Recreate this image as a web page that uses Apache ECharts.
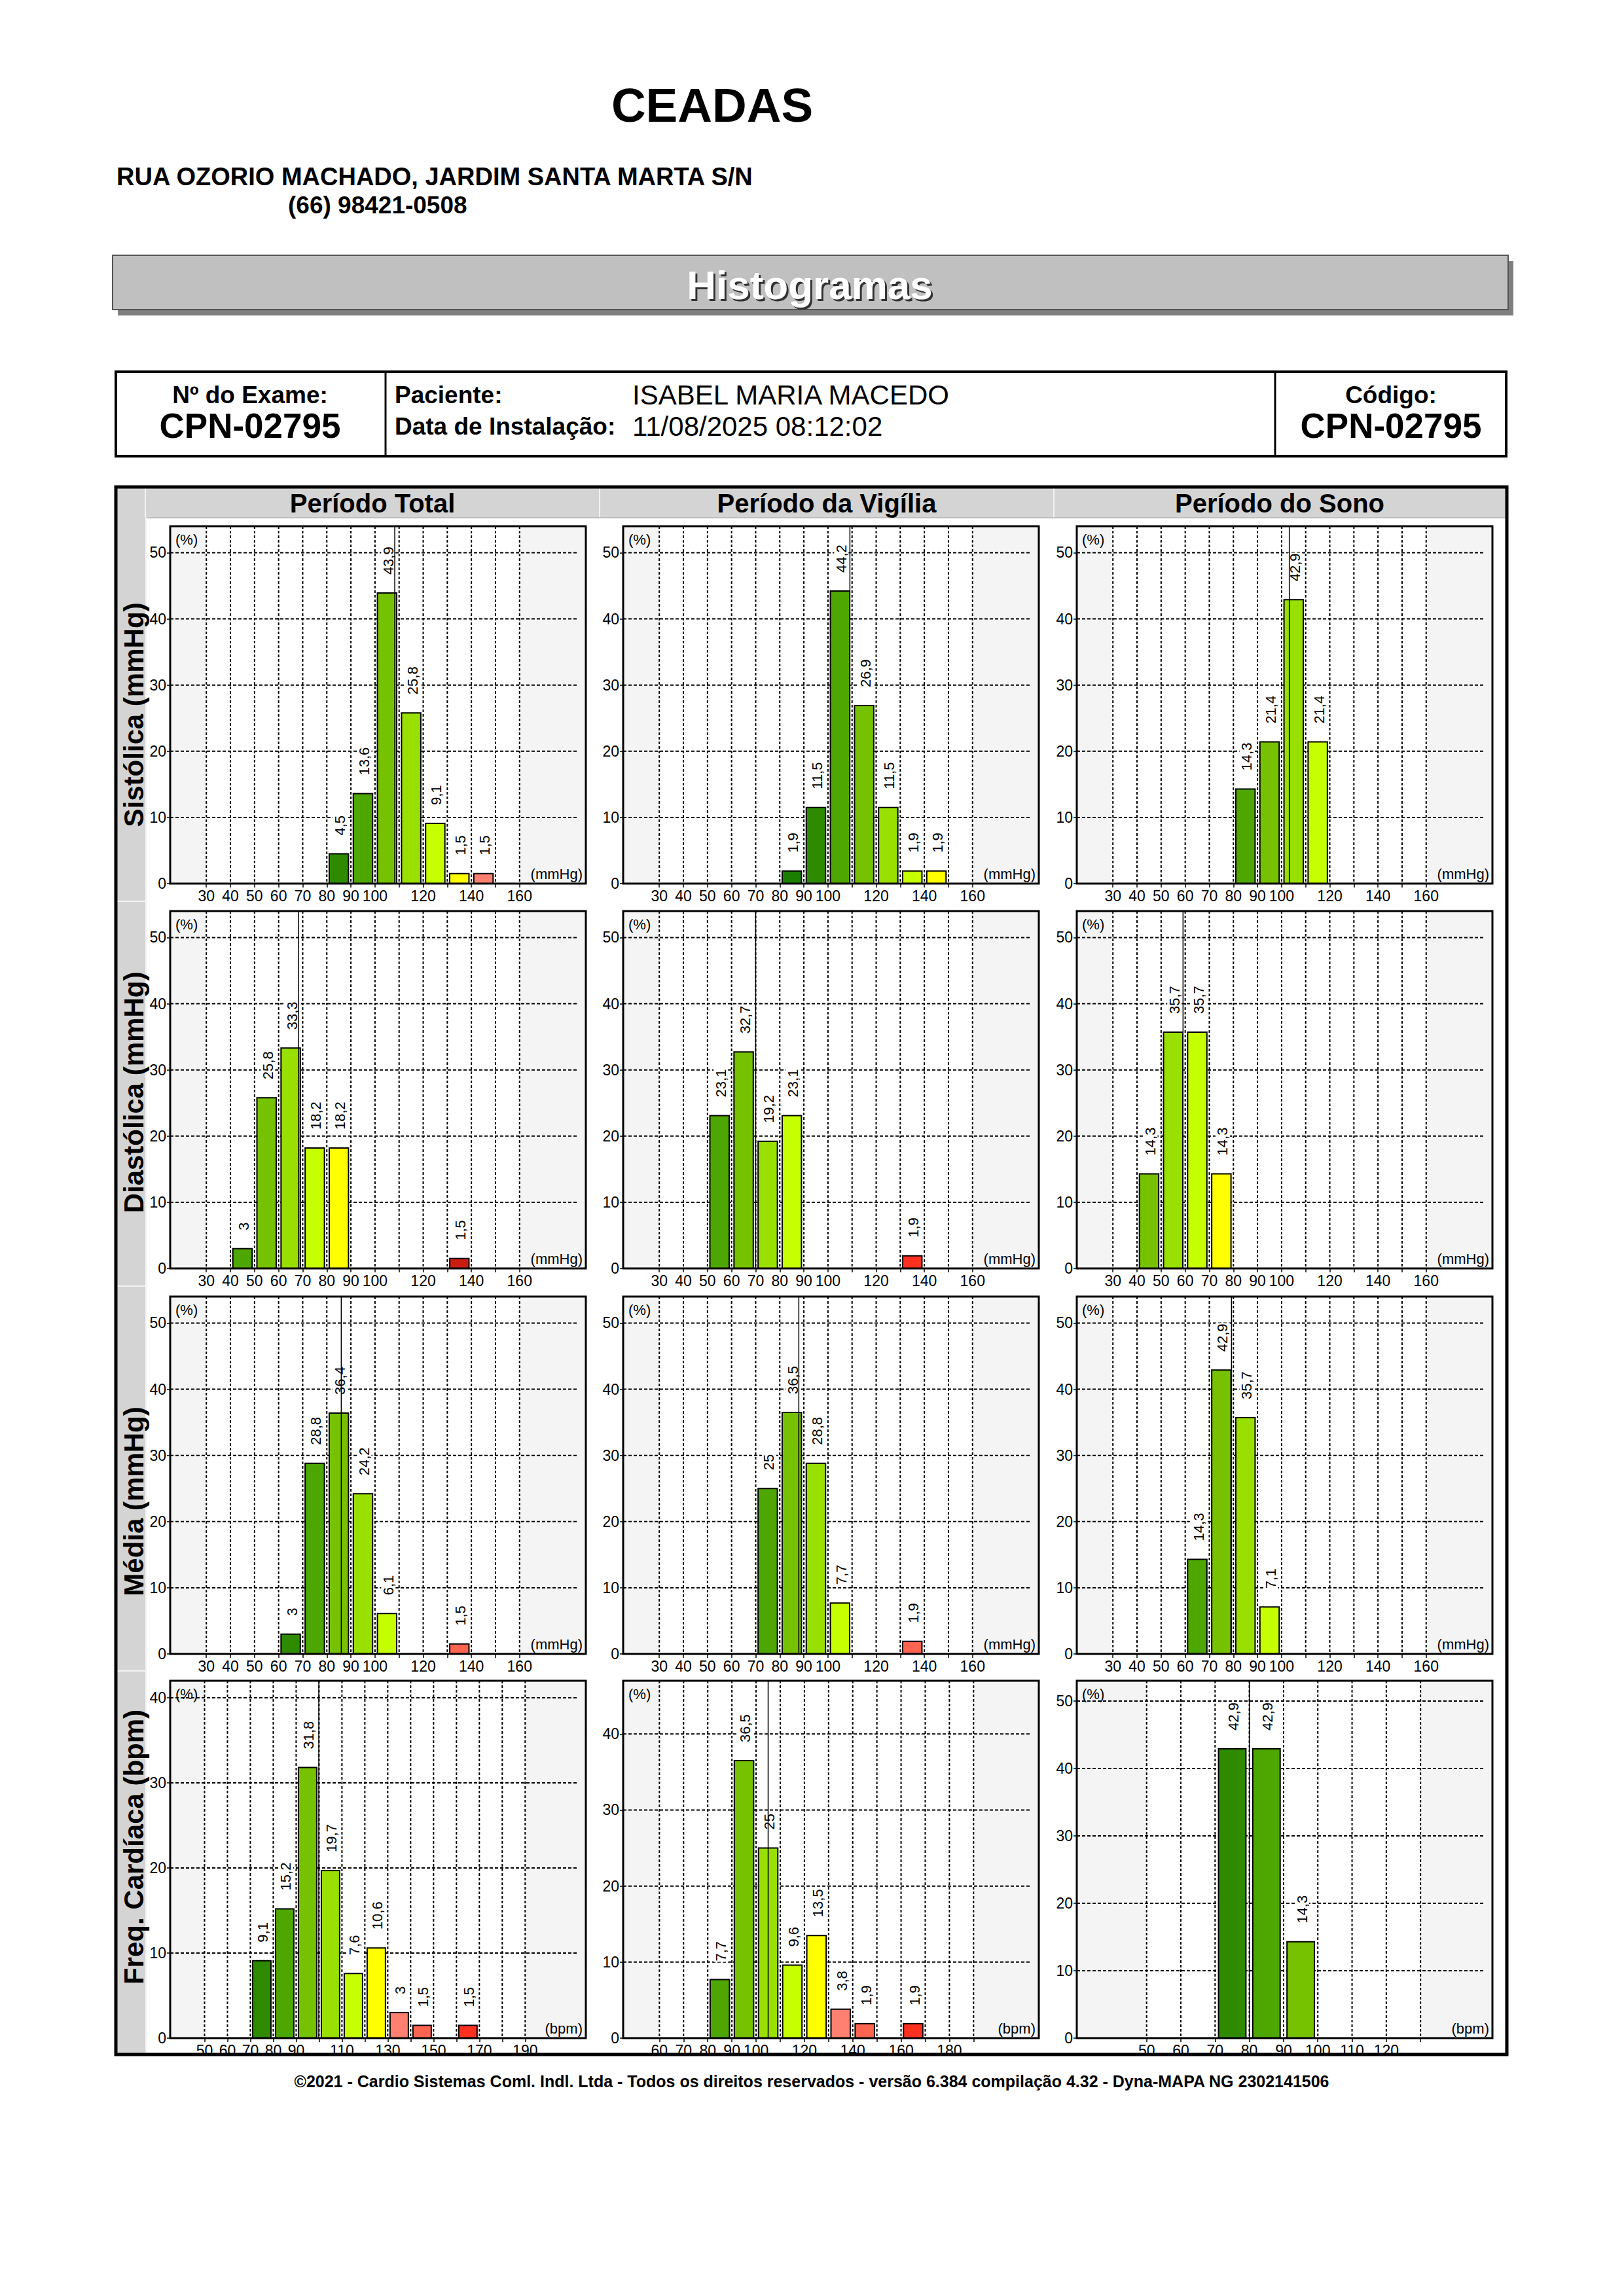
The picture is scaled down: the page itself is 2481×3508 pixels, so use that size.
<!DOCTYPE html>
<html>
<head>
<meta charset="utf-8">
<script src="https://cdn.jsdelivr.net/npm/echarts@6/dist/echarts.min.js"></script>
<style>
html,body{margin:0;padding:0;background:#fff;}
#chart{width:2481px;height:3508px;}
</style>
</head>
<body>
<div id="chart"></div>
<script>
// ---------------- DATA ----------------
// Sistólica
const sisTotalStart = [80, 90, 100, 110, 120, 130, 140];
const sisTotalPct   = [4.5, 13.6, 43.9, 25.8, 9.1, 1.5, 1.5];
const sisTotalMean  = 108.2;
const sisVigStart   = [80, 90, 100, 110, 120, 130, 140];
const sisVigPct     = [1.9, 11.5, 44.2, 26.9, 11.5, 1.9, 1.9];
const sisVigMean    = 109.1;
const sisSonoStart  = [80, 90, 100, 110];
const sisSonoPct    = [14.3, 21.4, 42.9, 21.4];
const sisSonoMean   = 103.2;
// Diastólica
const diaTotalStart = [40, 50, 60, 70, 80, 130];
const diaTotalPct   = [3, 25.8, 33.3, 18.2, 18.2, 1.5];
const diaTotalMean  = 68.3;
const diaVigStart   = [50, 60, 70, 80, 130];
const diaVigPct     = [23.1, 32.7, 19.2, 23.1, 1.9];
const diaVigMean    = 70.0;
const diaSonoStart  = [40, 50, 60, 70];
const diaSonoPct    = [14.3, 35.7, 35.7, 14.3];
const diaSonoMean   = 59.1;
// Média
const medTotalStart = [60, 70, 80, 90, 100, 130];
const medTotalPct   = [3, 28.8, 36.4, 24.2, 6.1, 1.5];
const medTotalMean  = 86.0;
const medVigStart   = [70, 80, 90, 100, 130];
const medVigPct     = [25, 36.5, 28.8, 7.7, 1.9];
const medVigMean    = 87.9;
const medSonoStart  = [60, 70, 80, 90];
const medSonoPct    = [14.3, 42.9, 35.7, 7.1];
const medSonoMean   = 79.2;
// Freq. Cardíaca
const fcTotalStart  = [70, 80, 90, 100, 110, 120, 130, 140, 160];
const fcTotalPct    = [9.1, 15.2, 31.8, 19.7, 7.6, 10.6, 3, 1.5, 1.5];
const fcTotalMean   = 99.9;
const fcVigStart    = [80, 90, 100, 110, 120, 130, 140, 160];
const fcVigPct      = [7.7, 36.5, 25, 9.6, 13.5, 3.8, 1.9, 1.9];
const fcVigMean     = 105.0;
const fcSonoStart   = [70, 80, 90];
const fcSonoPct     = [42.9, 42.9, 14.3];
const fcSonoMean    = 80.0;

const BIN_WIDTH = 10;

// Tick labels / grid values
const mmHgTickLabels    = [30, 40, 50, 60, 70, 80, 90, 100, 120, 140, 160];
const mmHgGridValues    = [30, 40, 50, 60, 70, 80, 90, 100, 110, 120, 130, 140, 150, 160];
const fcTotalTickLabels = [50, 60, 70, 80, 90, 110, 130, 150, 170, 190];
const fcTotalGridValues = [50, 60, 70, 80, 90, 100, 110, 120, 130, 140, 150, 160, 170, 180, 190];
const fcVigTickLabels   = [60, 70, 80, 90, 100, 120, 140, 160, 180];
const fcVigGridValues   = [60, 70, 80, 90, 100, 110, 120, 130, 140, 150, 160, 170, 180, 190];
const fcSonoTickLabels  = [50, 60, 70, 80, 90, 100, 110, 120];
const fcSonoGridValues  = [50, 60, 70, 80, 90, 100, 110, 120, 130];
const pctTicks50 = [0, 10, 20, 30, 40, 50];
const pctTicks40 = [0, 10, 20, 30, 40];

const rowTitles = ['Sistólica (mmHg)', 'Diastólica (mmHg)', 'Média (mmHg)', 'Freq. Cardíaca (bpm)'];
const colTitles = ['Período Total', 'Período da Vigília', 'Período do Sono'];

// ---------------- STYLE ----------------
const G1 = '#1a7f00', G2 = '#2e8b00', G3 = '#4ea600', G4 = '#76c100', G5 = '#99e000', G6 = '#c6ff00',
      YL = '#ffff00', S1 = '#ff8070', S2 = '#ff6450', R1 = '#ff3020', R2 = '#c81e10';
const sisTotalColors = [G2, G3, G4, G5, G6, YL, S1];
const sisVigColors   = [G1, G2, G3, G4, G5, G6, YL];
const sisSonoColors  = [G3, G4, G5, G6];
const diaTotalColors = [G3, G4, G5, G6, YL, R2];
const diaVigColors   = [G3, G4, G5, G6, R1];
const diaSonoColors  = [G4, G5, G6, YL];
const medTotalColors = [G2, G3, G4, G5, G6, S2];
const medVigColors   = [G3, G4, G5, G6, S2];
const medSonoColors  = [G3, G4, G5, G6];
const fcTotalColors  = [G2, G3, G4, G5, G6, YL, S1, S2, R1];
const fcVigColors    = [G3, G4, G5, G6, YL, S1, S2, R1];
const fcSonoColors   = [G2, G3, G4];

const FONT = '"Liberation Sans", Arial, Helvetica, sans-serif';
const PLOT_LEFT = [260, 952, 1645];
const PLOT_TOP = [804, 1392, 1981, 2568];
const PLOT_W = 635, PLOT_H = 546;
const TICK_FS = 23, VAL_FS = 22;

const AXES = {
  mmHg:    { range: [15, 187.5], white: [30, 160], grid: mmHgGridValues, labels: mmHgTickLabels, ymax: 54, yt: pctTicks50, unit: '(mmHg)' },
  fcTotal: { range: [35, 216.5], white: [50, 190], grid: fcTotalGridValues, labels: fcTotalTickLabels, ymax: 42, yt: pctTicks40, unit: '(bpm)' },
  fcVig:   { range: [45, 217],   white: [60, 190], grid: fcVigGridValues, labels: fcVigTickLabels, ymax: 47, yt: pctTicks40, unit: '(bpm)' },
  fcSono:  { range: [29.6, 151], white: [50, 130], grid: fcSonoGridValues, labels: fcSonoTickLabels, ymax: 53, yt: pctTicks50, unit: '(bpm)' }
};

const panels = [
  {r:0,c:0,s:sisTotalStart,p:sisTotalPct,m:sisTotalMean,col:sisTotalColors,ax:'mmHg'},
  {r:0,c:1,s:sisVigStart,p:sisVigPct,m:sisVigMean,col:sisVigColors,ax:'mmHg'},
  {r:0,c:2,s:sisSonoStart,p:sisSonoPct,m:sisSonoMean,col:sisSonoColors,ax:'mmHg'},
  {r:1,c:0,s:diaTotalStart,p:diaTotalPct,m:diaTotalMean,col:diaTotalColors,ax:'mmHg'},
  {r:1,c:1,s:diaVigStart,p:diaVigPct,m:diaVigMean,col:diaVigColors,ax:'mmHg'},
  {r:1,c:2,s:diaSonoStart,p:diaSonoPct,m:diaSonoMean,col:diaSonoColors,ax:'mmHg'},
  {r:2,c:0,s:medTotalStart,p:medTotalPct,m:medTotalMean,col:medTotalColors,ax:'mmHg'},
  {r:2,c:1,s:medVigStart,p:medVigPct,m:medVigMean,col:medVigColors,ax:'mmHg'},
  {r:2,c:2,s:medSonoStart,p:medSonoPct,m:medSonoMean,col:medSonoColors,ax:'mmHg'},
  {r:3,c:0,s:fcTotalStart,p:fcTotalPct,m:fcTotalMean,col:fcTotalColors,ax:'fcTotal'},
  {r:3,c:1,s:fcVigStart,p:fcVigPct,m:fcVigMean,col:fcVigColors,ax:'fcVig'},
  {r:3,c:2,s:fcSonoStart,p:fcSonoPct,m:fcSonoMean,col:fcSonoColors,ax:'fcSono'}
];

const fmt = v => String(v).replace('.', ',');

const grids = [], xAxes = [], yAxes = [], series = [], graphics = [];

panels.forEach((pn, i) => {
  const A = AXES[pn.ax];
  const left = PLOT_LEFT[pn.c], top = PLOT_TOP[pn.r];
  grids.push({ left: left, top: top, width: PLOT_W, height: PLOT_H, show: true,
    backgroundColor: 'transparent', borderColor: '#000', borderWidth: 3, z: 10 });
  xAxes.push({ type: 'value', gridIndex: i, min: A.range[0], max: A.range[1],
    splitLine: { show: false }, axisLine: { show: false },
    axisTick: { show: true, customValues: A.grid, length: 6, lineStyle: { color: '#000', width: 1.5 } },
    axisLabel: { customValues: A.labels, color: '#000', fontSize: TICK_FS, fontFamily: FONT, margin: 7 } });
  yAxes.push({ type: 'value', gridIndex: i, min: 0, max: A.ymax, interval: 10,
    splitLine: { show: false }, axisLine: { show: false },
    axisTick: { show: true, customValues: A.yt, length: 5, lineStyle: { color: '#000', width: 1.5 } },
    axisLabel: { customValues: A.yt, color: '#000', fontSize: TICK_FS, fontFamily: FONT, margin: 6 } });

  // background (gray + white band)
  series.push({ type: 'custom', xAxisIndex: i, yAxisIndex: i, z: 1, silent: true, clip: false,
    data: [[A.white[0], A.white[1]]],
    renderItem: (params, api) => {
      const cs = params.coordSys;
      const a = api.coord([api.value(0), 0]);
      const b = api.coord([api.value(1), 0]);
      return { type: 'group', children: [
        { type: 'rect', shape: { x: cs.x, y: cs.y, width: cs.width, height: cs.height }, style: { fill: '#f4f4f4' } },
        { type: 'rect', shape: { x: a[0], y: cs.y, width: b[0] - a[0], height: cs.height }, style: { fill: '#ffffff' } }
      ]};
    } });
  // vertical dashed grid
  series.push({ type: 'custom', xAxisIndex: i, yAxisIndex: i, z: 2, silent: true,
    data: A.grid.map(v => [v, 0]),
    renderItem: (params, api) => {
      const cs = params.coordSys;
      const p = api.coord([api.value(0), 0]);
      return { type: 'line', shape: { x1: p[0], y1: cs.y, x2: p[0], y2: cs.y + cs.height },
        style: { stroke: '#000', lineWidth: 2, lineDash: [4, 3] } };
    } });
  // horizontal dashed grid
  series.push({ type: 'custom', xAxisIndex: i, yAxisIndex: i, z: 2, silent: true,
    data: A.yt.filter(v => v > 0).map(v => [A.white[0], v]),
    renderItem: (params, api) => {
      const cs = params.coordSys;
      const p = api.coord([api.value(0), api.value(1)]);
      return { type: 'line', shape: { x1: cs.x, y1: p[1], x2: cs.x + cs.width - 12, y2: p[1] },
        style: { stroke: '#000', lineWidth: 2, lineDash: [5, 3] } };
    } });
  // bars with rotated labels
  const colors = pn.col;
  series.push({ type: 'custom', xAxisIndex: i, yAxisIndex: i, z: 3, silent: true,
    data: pn.s.map((s, k) => [s, pn.p[k]]),
    renderItem: (params, api) => {
      const x0 = api.value(0), v = api.value(1);
      const tl = api.coord([x0 + 1, v]);
      const br = api.coord([x0 + BIN_WIDTH - 1, 0]);
      const cx = (tl[0] + br[0]) / 2;
      return { type: 'group', children: [
        { type: 'rect', shape: { x: tl[0], y: tl[1], width: br[0] - tl[0], height: br[1] - tl[1] },
          style: { fill: colors[params.dataIndex], stroke: '#000', lineWidth: 2 } },
        { type: 'text', x: cx + 2, y: tl[1] - 27, rotation: Math.PI / 2,
          style: { text: fmt(v), fill: '#000', font: VAL_FS + 'px ' + FONT, align: 'left', verticalAlign: 'middle',
                   backgroundColor: '#ffffff', padding: [0, 1, 0, 1] } }
      ]};
    } });
  // mean line
  series.push({ type: 'custom', xAxisIndex: i, yAxisIndex: i, z: 4, silent: true,
    data: [[pn.m, 0]],
    renderItem: (params, api) => {
      const cs = params.coordSys;
      const p = api.coord([api.value(0), 0]);
      return { type: 'line', shape: { x1: p[0], y1: cs.y, x2: p[0], y2: cs.y + cs.height },
        style: { stroke: '#000', lineWidth: 1.5 } };
    } });

  graphics.push({ type: 'text', x: left + 8, y: top + 20, z: 20,
    style: { text: '(%)', fill: '#000', font: '22px ' + FONT, align: 'left', verticalAlign: 'middle' } });
  graphics.push({ type: 'text', x: left + PLOT_W - 5, y: top + PLOT_H - 15, z: 20,
    style: { text: A.unit, fill: '#000', font: '22px ' + FONT, align: 'right', verticalAlign: 'middle' } });
});

// ---------------- PAGE DECORATION ----------------
const deco = [];
const T = (x, y, text, font, align, extra) => Object.assign({ type: 'text', x: x, y: y, z: 5,
  style: { text: text, fill: '#000', font: font, align: align || 'left', verticalAlign: 'middle' } }, extra || {});

deco.push(T(1088, 160, 'CEADAS', 'bold 73px ' + FONT, 'center'));
deco.push(T(178, 270, 'RUA OZORIO MACHADO, JARDIM SANTA MARTA S/N', 'bold 38px ' + FONT, 'left'));
deco.push(T(440, 313, '(66) 98421-0508', 'bold 37px ' + FONT, 'left'));

// banner
deco.push({ type: 'rect', z: 1, shape: { x: 180, y: 399, width: 2132, height: 83 }, style: { fill: '#7f7f7f' } });
deco.push({ type: 'rect', z: 2, shape: { x: 172, y: 390, width: 2132, height: 83 }, style: { fill: '#c0c0c0', stroke: '#555', lineWidth: 2 } });
deco.push({ type: 'text', x: 1240, y: 438, z: 3, style: { text: 'Histogramas', fill: '#333', font: 'bold 62px ' + FONT, align: 'center', verticalAlign: 'middle' } });
deco.push({ type: 'text', x: 1237, y: 435, z: 4, style: { text: 'Histogramas', fill: '#fff', font: 'bold 62px ' + FONT, align: 'center', verticalAlign: 'middle' } });

// info table
deco.push({ type: 'rect', z: 2, shape: { x: 177, y: 568, width: 2124, height: 129 }, style: { fill: 'none', stroke: '#000', lineWidth: 4 } });
deco.push({ type: 'line', z: 2, shape: { x1: 589, y1: 568, x2: 589, y2: 697 }, style: { stroke: '#000', lineWidth: 3 } });
deco.push({ type: 'line', z: 2, shape: { x1: 1948, y1: 568, x2: 1948, y2: 697 }, style: { stroke: '#000', lineWidth: 3 } });
deco.push(T(382, 603, 'Nº do Exame:', 'bold 37px ' + FONT, 'center'));
deco.push(T(382, 650, 'CPN-02795', 'bold 53px ' + FONT, 'center'));
deco.push(T(603, 603, 'Paciente:', 'bold 37px ' + FONT, 'left'));
deco.push(T(966, 603, 'ISABEL MARIA MACEDO', '42px ' + FONT, 'left'));
deco.push(T(603, 651, 'Data de Instalação:', 'bold 37px ' + FONT, 'left'));
deco.push(T(966, 651, '11/08/2025 08:12:02', '42px ' + FONT, 'left'));
deco.push(T(2125, 603, 'Código:', 'bold 37px ' + FONT, 'center'));
deco.push(T(2125, 650, 'CPN-02795', 'bold 53px ' + FONT, 'center'));

// chart frame
deco.push({ type: 'rect', z: 1, shape: { x: 179, y: 746, width: 2121, height: 44 }, style: { fill: '#d4d4d4' } });
deco.push({ type: 'rect', z: 1, shape: { x: 179, y: 790, width: 43, height: 2347 }, style: { fill: '#d4d4d4' } });
[222, 916, 1610].forEach(x => deco.push({ type: 'line', z: 2, shape: { x1: x, y1: 746, x2: x, y2: 790 }, style: { stroke: '#f2f2f2', lineWidth: 2 } }));
deco.push({ type: 'line', z: 2, shape: { x1: 222, y1: 791, x2: 2300, y2: 791 }, style: { stroke: '#bcbcbc', lineWidth: 2 } });
deco.push({ type: 'line', z: 2, shape: { x1: 223, y1: 790, x2: 223, y2: 3137 }, style: { stroke: '#f2f2f2', lineWidth: 2 } });
[1377, 1965, 2553].forEach(y => deco.push({ type: 'line', z: 2, shape: { x1: 179, y1: y, x2: 222, y2: y }, style: { stroke: '#f2f2f2', lineWidth: 2 } }));
deco.push({ type: 'rect', z: 6, shape: { x: 177, y: 744, width: 2125, height: 2395 }, style: { fill: 'none', stroke: '#000', lineWidth: 5 } });

const colCenters = [569, 1263, 1955];
colTitles.forEach((t, k) => deco.push(T(colCenters[k], 769, t, 'bold 40px ' + FONT, 'center')));
const rowCenters = [1092, 1669, 2294, 2822];
rowTitles.forEach((t, k) => deco.push(T(204, rowCenters[k], t, 'bold 42px ' + FONT, 'center', { rotation: Math.PI / 2 })));

deco.push(T(1240, 3180, '©2021 - Cardio Sistemas Coml. Indl. Ltda - Todos os direitos reservados - versão 6.384 compilação 4.32 - Dyna-MAPA NG 2302141506', 'bold 25px ' + FONT, 'center'));

const chart = echarts.init(document.getElementById('chart'), null, { renderer: 'svg', width: 2481, height: 3508 });
chart.setOption({
  backgroundColor: '#ffffff',
  animation: false,
  textStyle: { fontFamily: FONT },
  grid: grids,
  xAxis: xAxes,
  yAxis: yAxes,
  series: series,
  graphic: { elements: deco.concat(graphics) }
});
</script>
</body>
</html>
